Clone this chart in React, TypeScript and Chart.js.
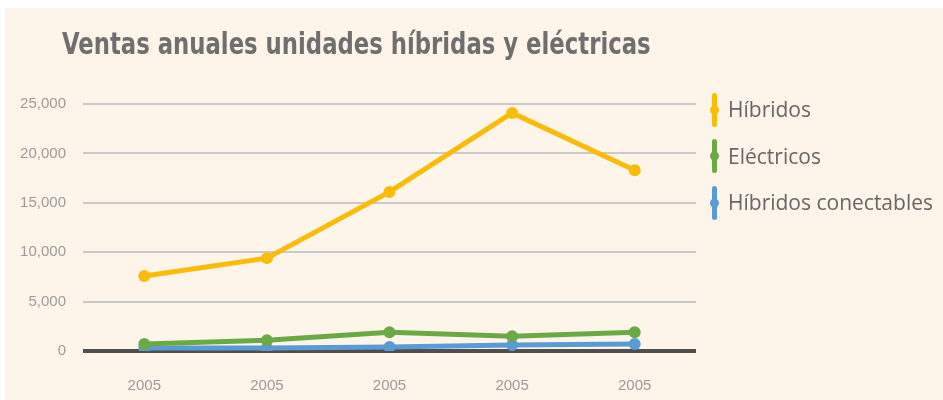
import React, { useEffect, useRef } from 'react';
import { Chart, registerables } from 'chart.js';

Chart.register(...registerables);

const categories = ['2005', '2005', '2005', '2005', '2005'];
const hibridos = [7600, 9400, 16100, 24100, 18300];
const electricos = [700, 1100, 1900, 1500, 1900];
const conectables = [300, 300, 400, 600, 700];
const seriesNames = ['Híbridos', 'Eléctricos', 'Híbridos conectables'];
const seriesColors = ['#fbbc09', '#6ba944', '#5b9bd5'];
const yTicks = [0, 5000, 10000, 15000, 20000, 25000];
const chartTitle = 'Ventas anuales unidades híbridas y eléctricas';

const tickFont = '"Liberation Sans", Arial, sans-serif';
const titleFont = '"DejaVu Sans Condensed", "DejaVu Sans", sans-serif';

export default function App() {
  const ref = useRef<HTMLCanvasElement>(null);

  useEffect(() => {
    document.body.style.margin = '0';
    const seriesData = [hibridos, electricos, conectables];
    const chart = new Chart(ref.current as HTMLCanvasElement, {
      type: 'line',
      data: {
        labels: categories,
        datasets: seriesNames.map((name, i) => ({
          label: name,
          data: seriesData[i],
          borderColor: seriesColors[i],
          backgroundColor: seriesColors[i],
          pointBackgroundColor: seriesColors[i],
          pointBorderColor: seriesColors[i],
          borderWidth: 5,
          pointRadius: 6,
          pointBorderWidth: 0,
          tension: 0,
          fill: false,
        })),
      },
      options: {
        responsive: false,
        animation: false,
        locale: 'en-US',
        layout: { padding: { top: 104, right: 247, bottom: 0, left: 0 } },
        plugins: {
          legend: { display: false },
          title: { display: false },
          tooltip: { enabled: false },
        },
        scales: {
          x: {
            type: 'category',
            offset: true,
            grid: { display: false },
            border: { display: false },
            ticks: {
              color: '#9b9b9b',
              font: { family: tickFont, size: 15 },
              padding: 18,
              maxRotation: 0,
            },
            afterFit: (s: any) => {
              s.height = 49;
            },
          },
          y: {
            min: 0,
            max: 25000,
            afterBuildTicks: (s: any) => {
              s.ticks = yTicks.map((v) => ({ value: v }));
            },
            grid: {
              drawTicks: false,
              color: (c: any) => (c.tick && c.tick.value === 0 ? '#4f4f4f' : '#cacaca'),
              lineWidth: (c: any) => (c.tick && c.tick.value === 0 ? 4 : 2),
            },
            border: { display: false },
            ticks: {
              color: '#9b9b9b',
              font: { family: tickFont, size: 15 },
              padding: 17,
            },
            afterFit: (s: any) => {
              s.width = 83;
            },
          },
        },
      },
    });
    return () => chart.destroy();
  }, []);

  return (
    <div style={{ position: 'relative', width: 943, height: 400, background: '#ffffff', overflow: 'hidden' }}>
      <div style={{ position: 'absolute', left: 5, top: 8, right: 0, bottom: 0, background: '#fdf4ea' }} />
      <canvas
        ref={ref}
        width={943}
        height={400}
        style={{ position: 'absolute', left: 0, top: 0, width: 943, height: 400 }}
      />
      <div
        style={{
          position: 'absolute',
          left: 62,
          top: 29,
          fontFamily: titleFont,
          fontWeight: 'bold',
          fontSize: 30,
          lineHeight: '30px',
          color: '#6f6f6f',
          whiteSpace: 'nowrap',
          transform: 'scaleX(0.844)',
          transformOrigin: 'left top',
        }}
      >
        {chartTitle}
      </div>
      {seriesNames.map((name, i) => (
        <div
          key={name}
          style={{
            position: 'absolute',
            left: 709,
            top: 109.5 + i * 46.5 - 17,
            height: 34,
            display: 'flex',
            alignItems: 'center',
          }}
        >
          <svg width={11} height={34} style={{ display: 'block' }}>
            <line x1={5.5} y1={2.5} x2={5.5} y2={31.5} stroke={seriesColors[i]} strokeWidth={5} strokeLinecap="round" />
            <circle cx={5.5} cy={17} r={4.5} fill={seriesColors[i]} />
          </svg>
          <span
            style={{
              marginLeft: 8,
              fontFamily: '"Open Sans", sans-serif',
              fontSize: 21,
              lineHeight: '21px',
              color: '#666666',
              whiteSpace: 'nowrap',
            }}
          >
            {name}
          </span>
        </div>
      ))}
    </div>
  );
}
